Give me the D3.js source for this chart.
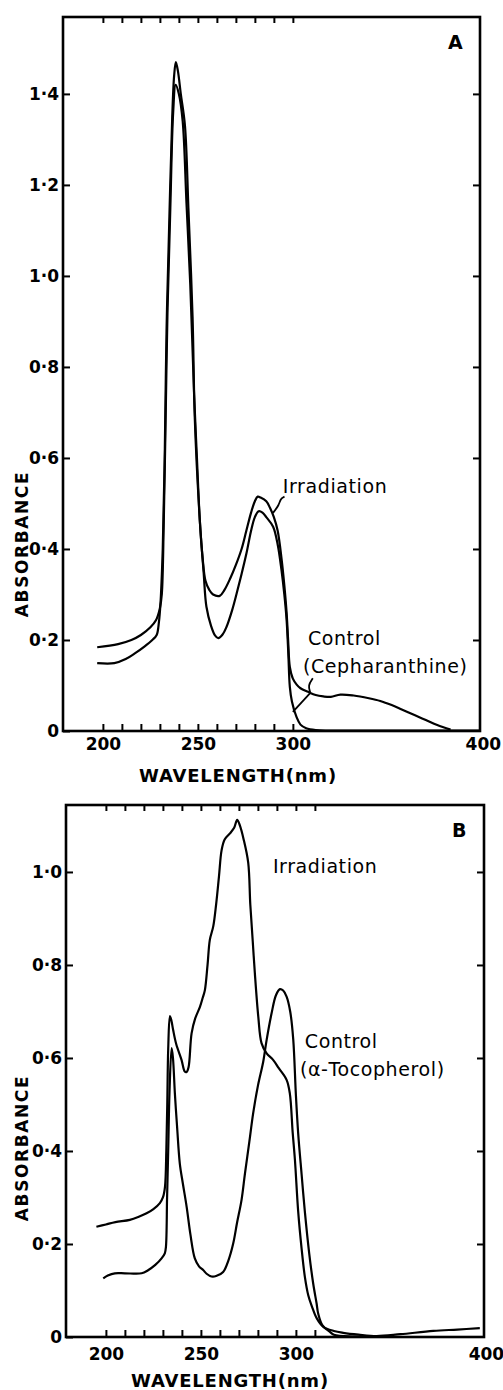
<!DOCTYPE html>
<html lang="en">
  <head>
    <meta charset="UTF-8" />
    <title>Absorbance spectra</title>
    <script src="https://cdn.jsdelivr.net/npm/d3@7"></script>
    <style>
      body { margin: 0; background: #fff; }
      svg { display: block; }
      .tick text { font-family: "DejaVu Sans", sans-serif; font-weight: bold; font-size: 17px; fill: #000; }
      .tick line { stroke: #000; stroke-width: 2; }
      .curve { fill: none; stroke: #000; stroke-width: 2.2; stroke-linejoin: round; }
      .leader { fill: none; stroke: #000; stroke-width: 1.8; }
      .note { font-family: "DejaVu Sans", sans-serif; font-size: 19px; fill: #000; letter-spacing: 0.6px; }
      .axis-title { font-family: "DejaVu Sans", sans-serif; font-weight: bold; fill: #000; }
    </style>
  </head>

  <body>
    <script>
      const width = 503;
      const height = 1390;

      // Panel A: cepharanthine, [wavelength nm, absorbance]
      const panelAIrradiation = [
        [197, 0.184], [208, 0.191], [215, 0.2], [220, 0.211], [225, 0.228],
        [228, 0.244], [230, 0.27], [231, 0.3], [232, 0.45], [233, 0.68],
        [234, 0.92], [235.5, 1.15], [237, 1.36], [238.3, 1.42], [240, 1.4],
        [242, 1.34], [244, 1.16], [246, 0.98], [248, 0.74], [249.5, 0.6],
        [251, 0.464], [252.5, 0.38], [254, 0.33], [256, 0.31], [258, 0.3],
        [261.5, 0.297], [264, 0.31], [267, 0.335], [270, 0.365], [273, 0.4],
        [275.5, 0.44], [278, 0.48], [280, 0.505], [281.5, 0.515], [283, 0.513],
        [286, 0.505], [288, 0.49], [290, 0.47], [292, 0.44], [294, 0.38],
        [295.5, 0.32], [296.7, 0.26], [297.5, 0.2], [298.4, 0.141], [300, 0.115],
        [302, 0.102], [304, 0.094], [308, 0.086], [312, 0.079], [316, 0.076],
        [320, 0.075], [325, 0.08], [332, 0.078], [340, 0.072], [346, 0.066],
        [352, 0.057], [357, 0.048], [364, 0.035], [370, 0.024], [376, 0.013],
        [383, 0.003]
      ];
      const panelAControl = [
        [197, 0.149], [206, 0.149], [212, 0.158], [217, 0.171], [222, 0.186],
        [226, 0.2], [228.3, 0.211], [229.5, 0.24], [230.2, 0.273], [231.5, 0.4],
        [232.6, 0.62], [233.5, 0.88], [235, 1.13], [236.5, 1.35], [237.5, 1.44],
        [238.4, 1.47], [239.5, 1.45], [241, 1.4], [243.2, 1.33], [245, 1.15],
        [247.2, 0.91], [248.4, 0.684], [251, 0.464], [253, 0.35], [254.5, 0.273],
        [257, 0.23], [259, 0.21], [260.7, 0.204], [263, 0.212], [265.1, 0.229],
        [268, 0.265], [270.4, 0.302], [273, 0.345], [275.6, 0.391], [278, 0.44],
        [280, 0.47], [282, 0.483], [284, 0.48], [286, 0.47], [289.6, 0.449],
        [292, 0.41], [294, 0.354], [295.5, 0.3], [296.7, 0.244], [297.6, 0.17],
        [298.4, 0.097], [299.5, 0.065], [301.9, 0.031], [304, 0.014], [307, 0.006],
        [312, 0.002], [320, 0.001], [398, 0.001]
      ];

      // Panel B: alpha-tocopherol
      const panelBIrradiation = [
        [195, 0.237], [200, 0.242], [205, 0.247], [212.6, 0.252], [217, 0.258],
        [221.4, 0.266], [225, 0.275], [228.4, 0.288], [230, 0.3], [231.1, 0.323],
        [231.8, 0.4], [232.3, 0.5], [232.8, 0.62], [233.7, 0.69], [234.5, 0.68],
        [235.4, 0.66], [237, 0.63], [239.8, 0.596], [241.5, 0.571], [242.5, 0.57],
        [243.5, 0.58], [245.1, 0.653], [247, 0.685], [249.5, 0.71], [251, 0.73],
        [252.1, 0.746], [253.5, 0.8], [254.7, 0.854], [256.5, 0.883], [258, 0.93],
        [259.5, 0.99], [260.9, 1.047], [262.5, 1.07], [265.3, 1.083], [267.5, 1.095],
        [269.1, 1.112], [270.5, 1.1], [272.5, 1.07], [274.9, 1.02], [276, 0.93],
        [277.3, 0.85], [278.4, 0.782], [280.2, 0.689], [281.9, 0.632], [284.6, 0.61],
        [288, 0.596], [291, 0.578], [295.1, 0.553], [296.8, 0.524], [298.3, 0.44],
        [299.5, 0.38], [301.2, 0.27], [303, 0.19], [304.7, 0.13], [306.5, 0.09],
        [308.5, 0.065], [311, 0.04], [314.4, 0.022], [320, 0.013], [324.9, 0.009],
        [333, 0.005], [342.5, 0.002], [355, 0.006], [372.3, 0.013], [385, 0.016],
        [396.8, 0.019]
      ];
      const panelBControl = [
        [198.6, 0.126], [201, 0.132], [204.7, 0.137], [210, 0.137], [218.8, 0.137],
        [222, 0.143], [226, 0.155], [229.3, 0.169], [231, 0.18], [231.6, 0.194],
        [232.2, 0.3], [232.8, 0.402], [233.5, 0.53], [234.6, 0.621], [235.3, 0.6],
        [236.3, 0.524], [237.5, 0.45], [238.9, 0.373], [240.5, 0.33], [242.5, 0.28],
        [244.5, 0.22], [246.8, 0.169], [249, 0.152], [251.2, 0.144], [253, 0.136],
        [255.6, 0.13], [258, 0.131], [261.7, 0.14], [264.5, 0.165], [267, 0.201],
        [269, 0.245], [271.4, 0.295], [273.2, 0.352], [275.5, 0.42], [277.5, 0.481],
        [280, 0.54], [282.8, 0.592], [284.6, 0.639], [287.2, 0.696], [289.5, 0.735],
        [291.6, 0.748], [293.3, 0.745], [295.1, 0.732], [297, 0.7], [298.6, 0.64],
        [300, 0.52], [301.2, 0.438], [303, 0.35], [304.7, 0.27], [307, 0.18],
        [309.1, 0.115], [310.9, 0.072], [311.7, 0.051], [314, 0.025], [317.9, 0.011],
        [320, 0.005], [330, 0.001], [342, 0.001]
      ];

      const xLabelValues = [200, 250, 300, 400];
      const xMinorA = [200, 210, 220, 230, 240, 250, 260, 270, 280, 290, 300];
      const xMinorB = [200, 210, 220, 230, 240, 250, 260, 270, 280, 290, 300, 310];
      const yTicksA = [0, 0.2, 0.4, 0.6, 0.8, 1.0, 1.2, 1.4];
      const yTicksB = [0, 0.2, 0.4, 0.6, 0.8, 1.0];

      // annotations: [text, wavelength, absorbance]
      const notesA = [
        ["Irradiation", 294.7, 0.523],
        ["Control", 307.9, 0.189],
        ["(Cepharanthine)", 305.3, 0.127]
      ];
      const notesB = [
        ["Irradiation", 287.9, 0.998],
        ["Control", 304.7, 0.622],
        ["(\u03b1-Tocopherol)", 302.1, 0.561]
      ];
      const leadersA = [
        [[295.6, 0.515], [293.4, 0.51], [292.8, 0.497], [289.5, 0.479]],
        [[310.5, 0.116], [307.9, 0.1], [309.2, 0.084]],
        [[309.2, 0.084], [300, 0.042]]
      ];

      const fmt = (d) => (d === 0 ? "0" : d3.format(".1f")(d).replace(".", "\u00b7"));

      const svg = d3
        .select("body")
        .append("svg")
        .attr("width", width)
        .attr("height", height);

      function drawPanel(p) {
        const x = d3.scaleLinear().domain(p.xDomain).range([p.left, p.right]);
        const y = d3.scaleLinear().domain(p.yDomain).range([p.bottom, p.top]);
        const g = svg.append("g");

        // inward ticks on all four sides
        g.append("g")
          .attr("transform", `translate(${p.left},0)`)
          .call(d3.axisLeft(y).tickValues(p.yTicks).tickSizeInner(-7).tickSizeOuter(0).tickPadding(4).tickFormat(fmt))
          .call((a) => a.select(".domain").remove());
        g.append("g")
          .attr("transform", `translate(${p.right},0)`)
          .call(d3.axisRight(y).tickValues(p.yTicks.filter((d) => d > 0)).tickSizeInner(-7).tickSizeOuter(0).tickFormat(""))
          .call((a) => a.select(".domain").remove());
        g.append("g")
          .attr("transform", `translate(0,${p.bottom})`)
          .call(d3.axisBottom(x).tickValues(p.xMinor).tickSizeInner(-7).tickSizeOuter(0).tickFormat(""))
          .call((a) => a.select(".domain").remove());
        g.append("g")
          .attr("transform", `translate(0,${p.top})`)
          .call(d3.axisTop(x).tickValues(p.xMinor).tickSizeInner(-6).tickSizeOuter(0).tickFormat(""))
          .call((a) => a.select(".domain").remove());
        g.append("g")
          .attr("transform", `translate(0,${p.bottom})`)
          .call(d3.axisBottom(x).tickValues(xLabelValues).tickSize(0).tickPadding(p.xPad).tickFormat(d3.format("d")))
          .call((a) => a.select(".domain").remove())
          .selectAll("text")
          .attr("font-size", 16);

        g.append("rect")
          .attr("x", p.left)
          .attr("y", p.top)
          .attr("width", p.right - p.left)
          .attr("height", p.bottom - p.top)
          .attr("fill", "none")
          .attr("stroke", "#000")
          .attr("stroke-width", 2.6);

        const line = d3
          .line()
          .x((d) => x(d[0]))
          .y((d) => y(d[1]))
          .curve(d3.curveCatmullRom.alpha(0.5));
        g.selectAll(".curve")
          .data(p.series)
          .join("path")
          .attr("class", "curve")
          .attr("d", line);

        const leader = d3.line().x((d) => x(d[0])).y((d) => y(d[1])).curve(d3.curveBasis);
        g.selectAll(".leader")
          .data(p.leaders)
          .join("path")
          .attr("class", "leader")
          .attr("d", leader);

        g.selectAll(".note")
          .data(p.notes)
          .join("text")
          .attr("class", "note")
          .attr("x", (d) => x(d[1]))
          .attr("y", (d) => y(d[2]))
          .text((d) => d[0]);

        g.append("text")
          .attr("class", "axis-title")
          .attr("font-size", 19)
          .attr("x", p.right - 32)
          .attr("y", p.top + 32)
          .text(p.letter);

        g.append("text")
          .attr("class", "axis-title")
          .attr("font-size", 17)
          .attr("letter-spacing", 1.6)
          .attr("text-anchor", "middle")
          .attr("transform", `translate(28,${p.titleY}) rotate(-90)`)
          .text("ABSORBANCE");

        g.append("text")
          .attr("class", "axis-title")
          .attr("font-size", 18)
          .attr("letter-spacing", 0.8)
          .attr("text-anchor", "middle")
          .attr("x", p.xTitleX)
          .attr("y", p.xTitleY)
          .text("WAVELENGTH(nm)");
      }

      drawPanel({
        left: 63, right: 480, top: 17, bottom: 731,
        xDomain: [179, 398.5], yDomain: [0, 1.569],
        yTicks: yTicksA, xMinor: xMinorA, xPad: 7,
        series: [panelAIrradiation, panelAControl],
        notes: notesA, leaders: leadersA, letter: "A",
        titleY: 544, xTitleX: 238, xTitleY: 782
      });

      drawPanel({
        left: 66, right: 484, top: 805, bottom: 1337,
        xDomain: [179, 399], yDomain: [0, 1.144],
        yTicks: yTicksB, xMinor: xMinorB, xPad: 11,
        series: [panelBIrradiation, panelBControl],
        notes: notesB, leaders: [], letter: "B",
        titleY: 1148, xTitleX: 230, xTitleY: 1387
      });
    </script>
  </body>
</html>
